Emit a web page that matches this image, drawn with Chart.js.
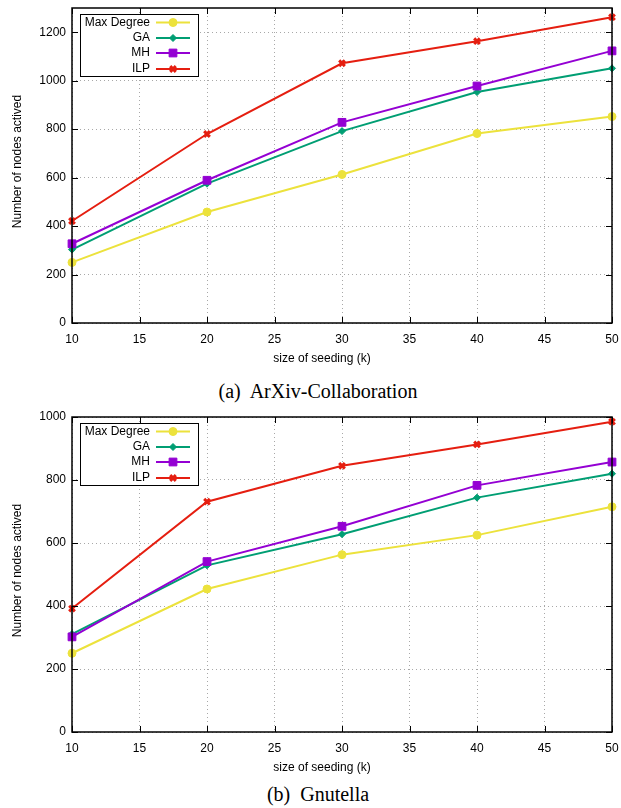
<!DOCTYPE html>
<html>
<head>
<meta charset="utf-8">
<script src="https://cdn.jsdelivr.net/npm/chart.js@4.4.1/dist/chart.umd.min.js"></script>
<style>
  html, body { margin: 0; padding: 0; background: #fff; }
  body { width: 621px; height: 808px; position: relative; overflow: hidden; }
  .wrap { position: absolute; left: 0; width: 621px; height: 372px; }
  canvas { display: block; }
  .cap { position: absolute; left: 0; width: 621px; text-align: center; font-family: "Liberation Serif", "Times New Roman", serif; font-size: 20px; line-height: 23px; color: #000; padding-left: 15px; box-sizing: border-box; white-space: pre; }
</style>
</head>
<body>
<div class="wrap" style="top:0px"><canvas id="c1" width="621" height="372"></canvas></div>
<div class="cap" style="top:380px">(a)  ArXiv-Collaboration</div>
<div class="wrap" style="top:409px"><canvas id="c2" width="621" height="372"></canvas></div>
<div class="cap" style="top:783px">(b)  Gnutella</div>
<script>
// ---- data ----
const seedSizes = [10, 20, 30, 40, 50];
const seriesNames = ["Max Degree", "GA", "MH", "ILP"];

const arxivMaxDegree = [250, 458, 613, 782, 852];
const arxivGA        = [303, 575, 792, 953, 1051];
const arxivMH        = [327, 589, 828, 978, 1123];
const arxivILP       = [421, 780, 1072, 1163, 1262];

const gnutellaMaxDegree = [250, 454, 563, 625, 715];
const gnutellaGA        = [311, 529, 628, 744, 820];
const gnutellaMH        = [302, 541, 653, 783, 857];
const gnutellaILP       = [392, 731, 845, 913, 985];

const xTicks = [10, 15, 20, 25, 30, 35, 40, 45, 50];
const arxivYTicks = [0, 200, 400, 600, 800, 1000, 1200];
const gnutellaYTicks = [0, 200, 400, 600, 800, 1000];

const xTitle = "size of seeding (k)";
const yTitle = "Number of nodes actived";

// ---- styles ----
const FONT = '"Liberation Sans", Arial, sans-serif';
const styles = [
  { color: '#ece23c', pointStyle: 'circle',   radius: 4,   order: 4 },
  { color: '#009e73', pointStyle: 'rectRot',  radius: 3.5, order: 3 },
  { color: '#9400d3', pointStyle: 'rect',     radius: 5.5, order: 2 },
  { color: '#e51e10', pointStyle: 'crossRot', radius: 4,   order: 1 }
];

function makeDatasets(seriesList) {
  return seriesList.map((vals, i) => ({
    label: seriesNames[i],
    data: seedSizes.map((x, j) => ({ x: x, y: vals[j] })),
    borderColor: styles[i].color,
    backgroundColor: styles[i].color,
    pointBackgroundColor: styles[i].color,
    pointBorderColor: styles[i].color,
    pointStyle: styles[i].pointStyle,
    pointRadius: styles[i].radius,
    pointBorderWidth: styles[i].pointStyle === 'crossRot' ? 3 : 1,
    borderWidth: 2,
    tension: 0,
    fill: false,
    clip: 8,
    order: styles[i].order
  }));
}

const framePlugin = {
  id: 'gnuplotFrame',
  afterDraw(chart) {
    const ctx = chart.ctx;
    const a = chart.chartArea;
    const xs = chart.scales.x, ys = chart.scales.y;
    const yTickVals = chart.options.plugins.gnuplotFrame.yTicks;
    ctx.save();
    // inward tick marks
    ctx.strokeStyle = '#000';
    ctx.lineWidth = 1;
    const tl = 6;
    ctx.beginPath();
    xTicks.forEach(v => {
      const px = Math.round(xs.getPixelForValue(v)) + 0.5;
      ctx.moveTo(px, a.bottom); ctx.lineTo(px, a.bottom - tl);
      ctx.moveTo(px, a.top); ctx.lineTo(px, a.top + tl);
    });
    yTickVals.forEach(v => {
      const py = Math.round(ys.getPixelForValue(v)) + 0.5;
      ctx.moveTo(a.left, py); ctx.lineTo(a.left + tl, py);
      ctx.moveTo(a.right, py); ctx.lineTo(a.right - tl, py);
    });
    ctx.stroke();
    // border
    ctx.lineWidth = 1.5;
    ctx.strokeRect(a.left, a.top, a.right - a.left, a.bottom - a.top);

    // axis titles
    ctx.fillStyle = '#000';
    ctx.font = '12px ' + FONT;
    ctx.textAlign = 'center';
    ctx.textBaseline = 'middle';
    ctx.fillText(xTitle, 322, a.bottom + 36);
    ctx.save();
    ctx.translate(18, (a.top + a.bottom) / 2 - 4);
    ctx.rotate(-Math.PI / 2);
    ctx.fillText(yTitle, 0, 0);
    ctx.restore();

    // legend
    const lx = a.left + 8, ly = a.top + 6, lw = 118, lh = 62;
    ctx.fillStyle = '#fff';
    ctx.fillRect(lx, ly, lw, lh);
    ctx.lineWidth = 1;
    ctx.strokeStyle = '#000';
    ctx.strokeRect(lx + 0.5, ly + 0.5, lw, lh);
    const rowY = [ly + 8.5, ly + 24, ly + 39, ly + 55];
    ctx.font = '12px ' + FONT;
    ctx.textAlign = 'right';
    ctx.textBaseline = 'middle';
    chart.data.datasets.forEach((ds, i) => {
      const y = rowY[i];
      ctx.fillStyle = '#000';
      ctx.fillText(ds.label, lx + 70, y);
      ctx.strokeStyle = ds.borderColor;
      ctx.lineWidth = 2;
      ctx.beginPath();
      ctx.moveTo(lx + 76, y); ctx.lineTo(lx + 110, y);
      ctx.stroke();
      ctx.fillStyle = ds.pointBackgroundColor;
      ctx.strokeStyle = ds.pointBorderColor;
      ctx.lineWidth = ds.pointBorderWidth;
      Chart.helpers.drawPoint(ctx, {
        pointStyle: ds.pointStyle, rotation: 0, radius: ds.pointRadius, borderWidth: ds.pointBorderWidth
      }, lx + 93, y);
    });
    ctx.restore();
  }
};

function makeChart(id, seriesList, yMax, yTicks) {
  return new Chart(document.getElementById(id), {
    type: 'line',
    data: { datasets: makeDatasets(seriesList) },
    options: {
      responsive: false,
      animation: false,
      events: [],
      layout: { padding: { left: 0, right: 9, top: 8, bottom: 0 } },
      plugins: {
        legend: { display: false },
        tooltip: { enabled: false },
        gnuplotFrame: { yTicks: yTicks }
      },
      scales: {
        x: {
          type: 'linear',
          min: 10, max: 50,
          afterBuildTicks: s => { s.ticks = xTicks.map(v => ({ value: v })); },
          afterFit: s => { s.height = 49; s.paddingLeft = 0; s.paddingRight = 0; },
          grid: { color: '#a8a8a8', lineWidth: 1, drawTicks: false },
          border: { display: false, dash: [1, 3] },
          ticks: { padding: 9, color: '#000', font: { family: FONT, size: 12 }, maxRotation: 0,
                   callback: v => String(v) }
        },
        y: {
          min: 0, max: yMax,
          afterBuildTicks: s => { s.ticks = yTicks.map(v => ({ value: v })); },
          afterFit: s => { s.width = 72; s.paddingTop = 0; s.paddingBottom = 0; },
          grid: { color: '#a8a8a8', lineWidth: 1, drawTicks: false },
          border: { display: false, dash: [1, 3] },
          ticks: { padding: 6, color: '#000', font: { family: FONT, size: 12 },
                   callback: v => String(v) }
        }
      }
    },
    plugins: [framePlugin]
  });
}

makeChart('c1', [arxivMaxDegree, arxivGA, arxivMH, arxivILP], 1300, arxivYTicks);
makeChart('c2', [gnutellaMaxDegree, gnutellaGA, gnutellaMH, gnutellaILP], 1000, gnutellaYTicks);
</script>
</body>
</html>
